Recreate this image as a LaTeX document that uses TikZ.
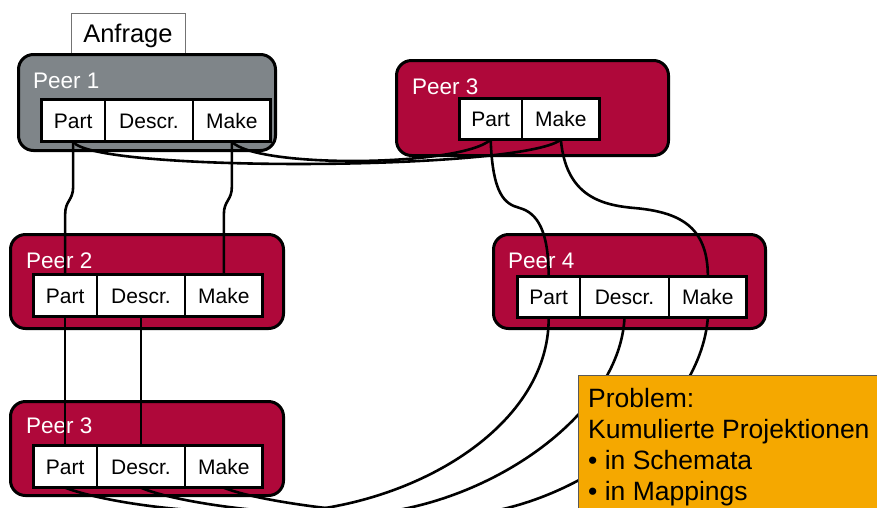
\documentclass[tikz,border=0pt]{standalone}
\usepackage{fontspec}
\setmainfont{Liberation Sans}
\usetikzlibrary{calc}

\definecolor{peergray}{RGB}{127,133,137}
\definecolor{peerred}{RGB}{175,8,58}
\definecolor{noteorange}{RGB}{245,168,0}

\pgfdeclarelayer{boxes}
\pgfdeclarelayer{links}
\pgfdeclarelayer{front}
\pgfsetlayers{boxes,links,main,front}

\begin{document}
\begin{tikzpicture}[x=1pt,y=-1pt,
  peerbox/.style={draw=black, line width=3pt, rounded corners=15pt,
    inner sep=0pt, outer sep=0pt, anchor=north west},
  peerlabel/.style={text=white, font=\fontsize{22.5}{27}\selectfont,
    inner sep=0pt, anchor=base west},
  cell/.style={draw=black, line width=1.2pt, fill=white, inner sep=0pt,
    outer sep=0pt, minimum height=42.4pt, text height=15pt, text depth=0pt,
    font=\fontsize{21}{25}\selectfont, anchor=north west},
  tableframe/.style={draw=black, line width=2.7pt},
  link/.style={draw=black, line width=2.6pt},
]
\useasboundingbox (0,0) rectangle (877,507);

% ---------- peer containers ----------
\begin{pgfonlayer}{boxes}
  \node[draw=black!55, line width=0.9pt, fill=white, minimum width=114pt,
        minimum height=41pt, text height=18.3pt, text depth=0pt, inner sep=0pt,
        anchor=north west, font=\fontsize{25.5}{30}\selectfont]
        (anfrage) at (70.5,12.5) {Anfrage};

  \node[peerbox, fill=peergray, minimum width=257pt, minimum height=96pt] (peer1) at (18.5,54.5) {};
  \node[peerbox, fill=peerred,  minimum width=272pt, minimum height=95pt] (peer3top) at (396.5,60.5) {};
  \node[peerbox, fill=peerred,  minimum width=273pt, minimum height=94pt] (peer2) at (10.5,234.5) {};
  \node[peerbox, fill=peerred,  minimum width=272pt, minimum height=94pt] (peer4) at (493.5,234.5) {};
  \node[peerbox, fill=peerred,  minimum width=273pt, minimum height=94pt] (peer3bot) at (10.5,401.5) {};

  \node[peerlabel] (peer1lbl)    at (33,88)  {Peer 1};
  \node[peerlabel] (peer3toplbl) at (412,94) {Peer 3};
  \node[peerlabel] (peer2lbl)    at (26,268) {Peer 2};
  \node[peerlabel] (peer4lbl)    at (508,268) {Peer 4};
  \node[peerlabel] (peer3botlbl) at (26,433) {Peer 3};
\end{pgfonlayer}

% ---------- relation tables ----------
% Peer 1
\node[cell, minimum width=63.7pt] (p1part)  at (41.3,99.3) {Part};
\node[cell, minimum width=88pt]   (p1descr) at (p1part.north east) {Descr.};
\node[cell, minimum width=77.7pt] (p1make)  at (p1descr.north east) {Make};
\draw[tableframe] (p1part.north west) rectangle (p1make.south east);

% Peer 3 (top)
\node[cell, minimum width=62.7pt, minimum height=41.4pt] (p3tpart) at (459.3,98.3) {Part};
\node[cell, minimum width=77.7pt, minimum height=41.4pt] (p3tmake) at (p3tpart.north east) {Make};
\draw[tableframe] (p3tpart.north west) rectangle (p3tmake.south east);

% Peer 2
\node[cell, minimum width=63.7pt] (p2part)  at (33.3,274.3) {Part};
\node[cell, minimum width=88pt]   (p2descr) at (p2part.north east) {Descr.};
\node[cell, minimum width=77.7pt] (p2make)  at (p2descr.north east) {Make};
\draw[tableframe] (p2part.north west) rectangle (p2make.south east);

% Peer 4
\node[cell, minimum width=62.7pt, minimum height=41.4pt] (p4part)  at (517.3,276.3) {Part};
\node[cell, minimum width=89pt,   minimum height=41.4pt] (p4descr) at (p4part.north east) {Descr.};
\node[cell, minimum width=77.7pt, minimum height=41.4pt] (p4make)  at (p4descr.north east) {Make};
\draw[tableframe] (p4part.north west) rectangle (p4make.south east);

% Peer 3 (bottom)
\node[cell, minimum width=63.7pt] (p3bpart)  at (33.3,445.3) {Part};
\node[cell, minimum width=88pt]   (p3bdescr) at (p3bpart.north east) {Descr.};
\node[cell, minimum width=77.7pt] (p3bmake)  at (p3bdescr.north east) {Make};
\draw[tableframe] (p3bpart.north west) rectangle (p3bmake.south east);

% ---------- attribute mappings ----------
\begin{pgfonlayer}{links}
\begin{scope}
  \clip (0,0) rectangle (877,507);

  % Peer 1 -> Peer 2
  \draw[link] (p1part.south) -- ++(0,45) .. controls +(0,14) and +(0,-14)
        .. ($(p2part.north)+(0,-60)$) -- (p2part.north);
  \draw[link] (p1make.south) -- ++(0,45) .. controls +(0,14) and +(0,-14)
        .. ($(p2make.north)+(0,-60)$) -- (p2make.north);

  % Peer 2 -> Peer 3 (bottom)
  \draw[link] (p2part.south)  -- (p3bpart.north);
  \draw[link] (p2descr.south) -- (p3bdescr.north);

  % Peer 1 -> Peer 3 (top)
  \draw[link] (p1part.south) .. controls +(20,31) and +(-40,31) .. (p3tmake.south);
  \draw[link] (p1make.south) .. controls +(25,27) and +(-30,27) .. (p3tpart.south);

  % Peer 3 (top) -> Peer 4
  \coordinate (bendA) at ($(p3tpart.south)!0.5!(p4part.north)$);
  \draw[link] (p3tpart.south) .. controls +(2,55) and +(-15,-4) .. (bendA)
        .. controls +(18,5) and +(0,-45) .. (p4part.north);
  \coordinate (bendB) at ($(p3tmake.south)!0.5!(p4make.north)$);
  \draw[link] (p3tmake.south) .. controls +(5,55) and +(-35,-3) .. (bendB)
        .. controls +(45,4) and +(0,-50) .. (p4make.north);

  % Peer 3 (bottom) -> Peer 4, dipping below the lower edge
  \coordinate (dipPart)  at (265,513);
  \coordinate (dipDescr) at (345,515);
  \coordinate (dipMake)  at (445,516);
  \draw[link] (p3bpart.south) .. controls +(35,13) and +(-90,0) .. (dipPart)
        .. controls +(140,0) and +(1,112) .. (p4part.south);
  \draw[link] (p3bdescr.south) .. controls +(30,13) and +(-90,-1) .. (dipDescr)
        .. controls +(130,0) and +(-5,102) .. (p4descr.south);
  \draw[link] (p3bmake.south) .. controls +(32,13) and +(-90,-1) .. (dipMake)
        .. controls +(120,0) and +(-8,102) .. (p4make.south);
\end{scope}
\end{pgfonlayer}

% ---------- note ----------
\begin{pgfonlayer}{front}
  \node[draw=black!65, line width=1pt, fill=noteorange, minimum width=330pt,
        minimum height=150pt, inner sep=0pt, anchor=north west]
        (problem) at (577.5,374.5) {};
  \node[inner sep=0pt, anchor=base west, font=\fontsize{26.5}{31}\selectfont]
        (problemtext) at (588,407)
        {\begin{tabular}[t]{@{}l@{}}Problem:\\Kumulierte Projektionen\\
         \textbullet{} in Schemata\\\textbullet{} in Mappings\end{tabular}};
\end{pgfonlayer}
\end{tikzpicture}
\end{document}
